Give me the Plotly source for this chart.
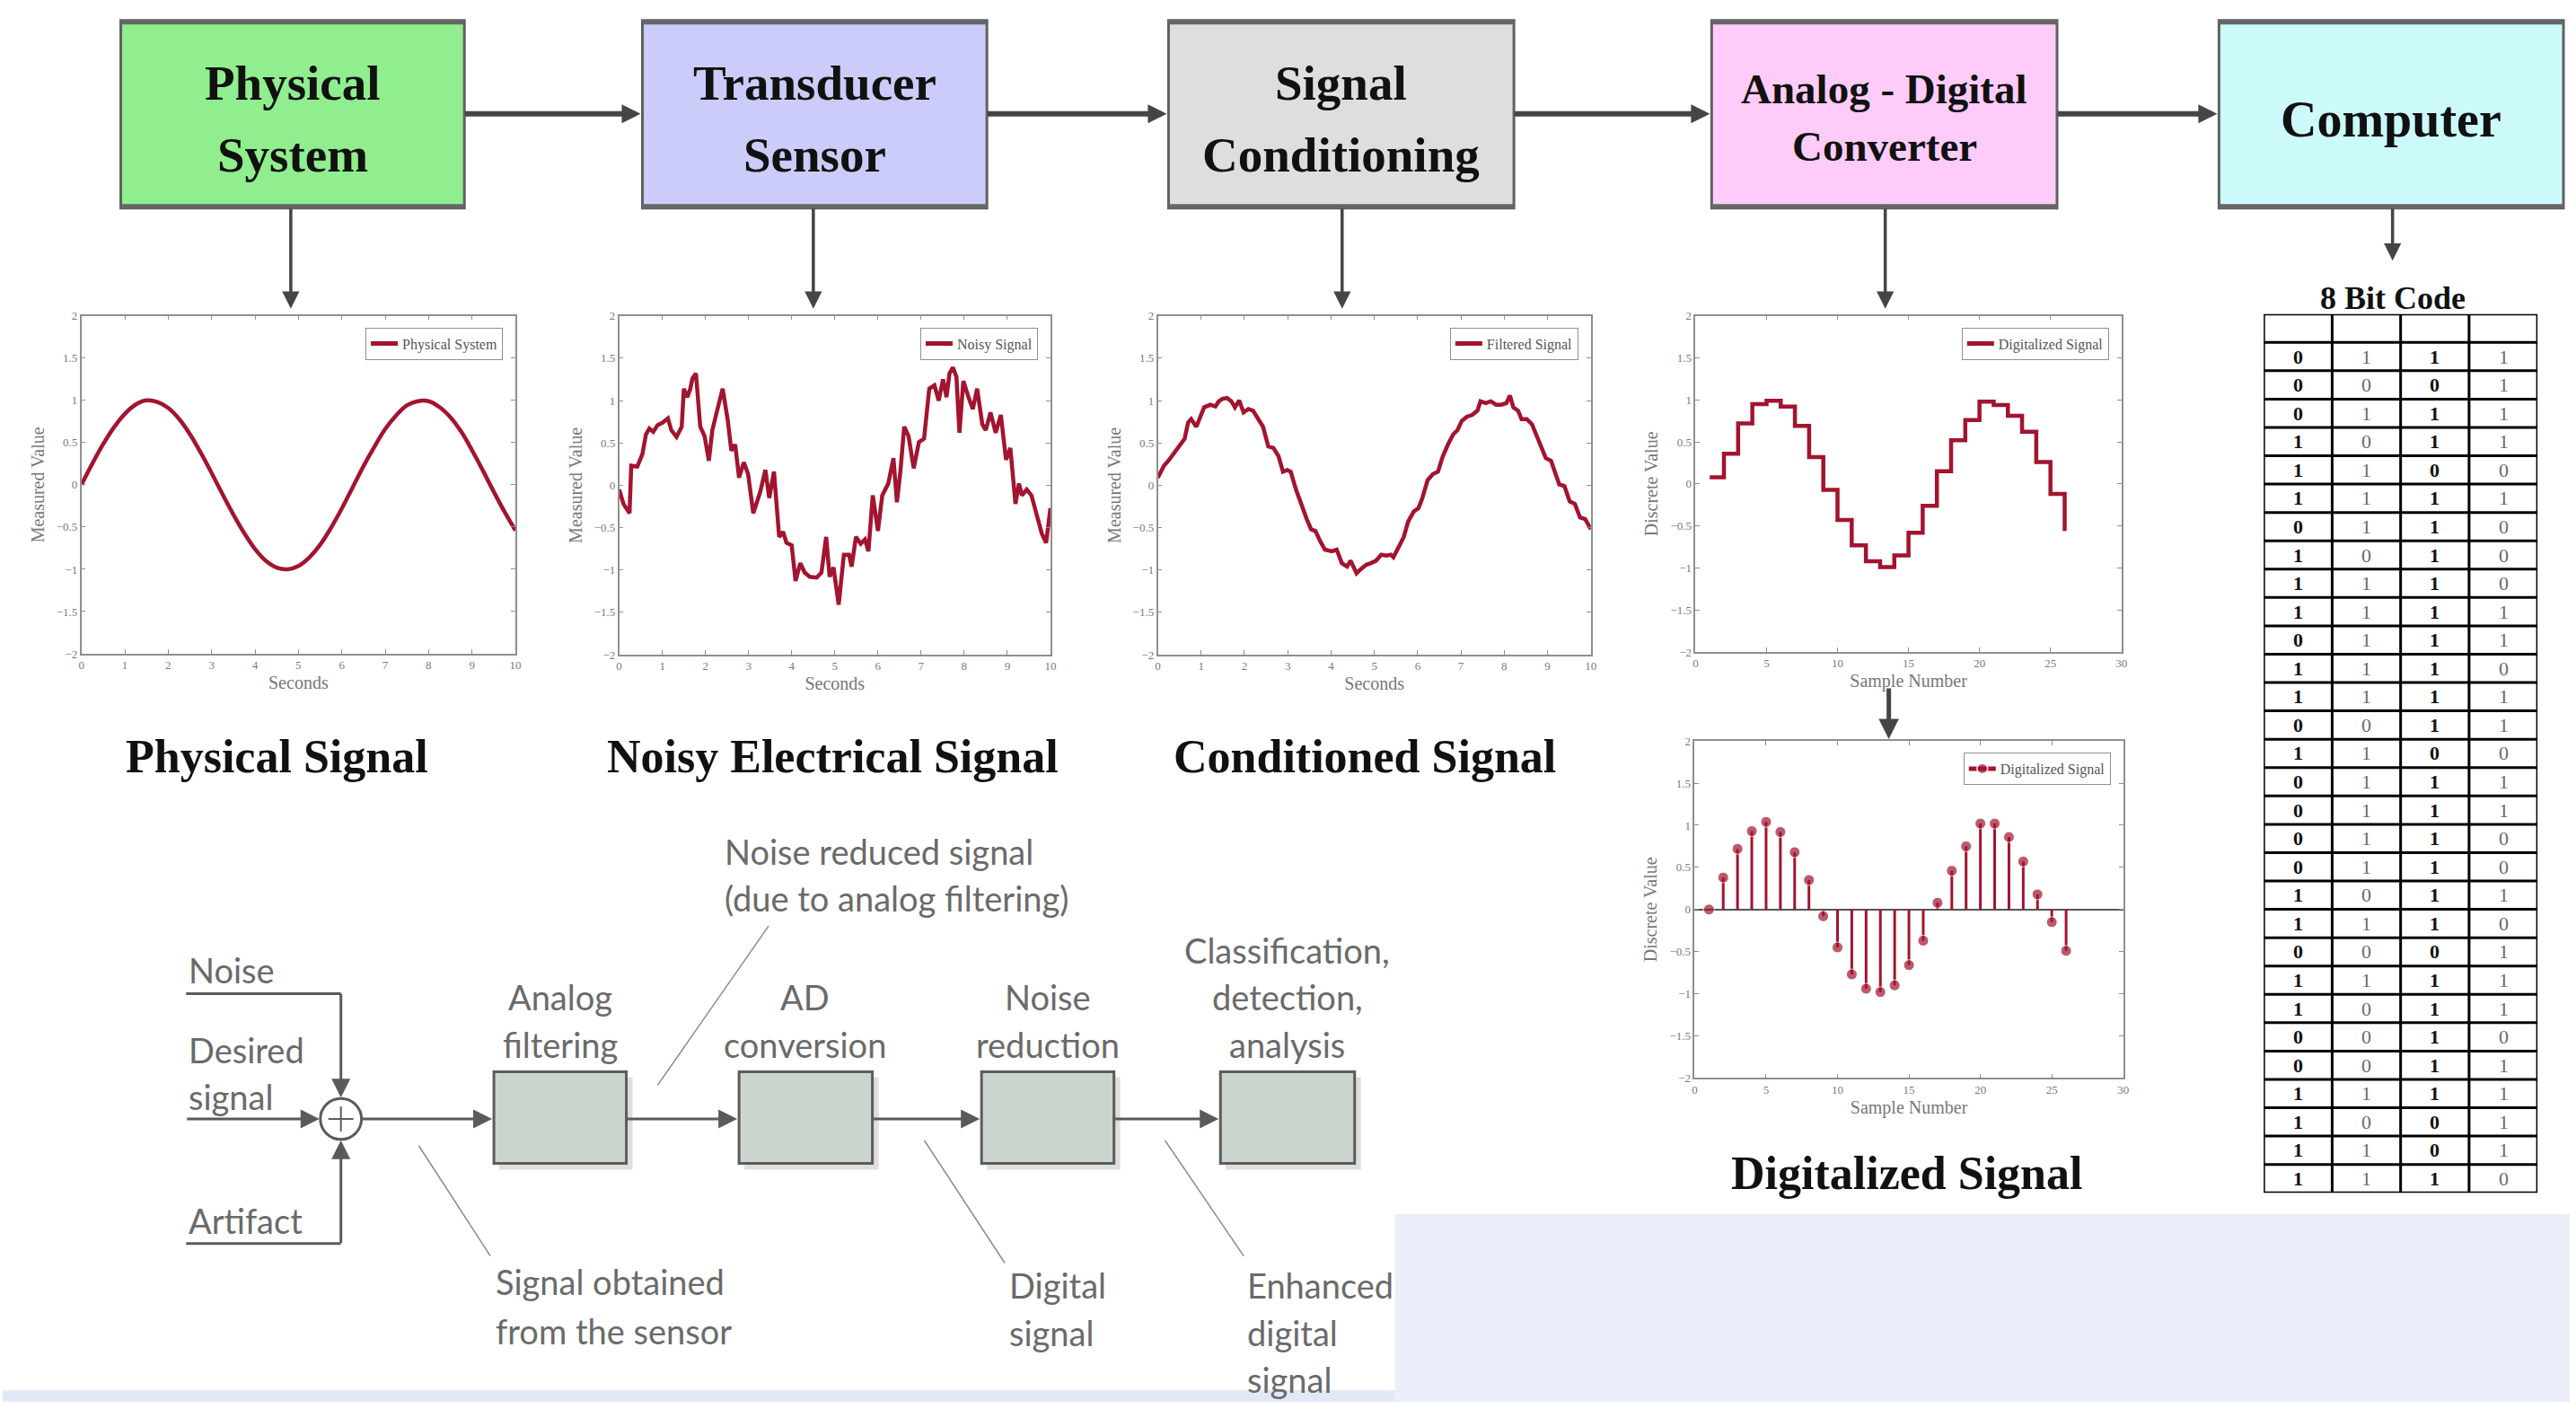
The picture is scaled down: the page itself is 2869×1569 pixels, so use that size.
import plotly.graph_objects as go

W, H = 2869, 1569
def X(p): return p / W
def Y(p): return 1 - p / H

RED = '#A2142F'
SERIF = 'Liberation Serif'
SANS = 'Lato'

# ---------------- data ----------------
phys_t = [0, 0.25, 0.5, 0.75, 1.0, 1.25, 1.5, 1.75, 2.0, 2.25, 2.5, 2.75, 3.0, 3.25, 3.5, 3.75, 4.0,
          4.25, 4.5, 4.75, 5.0, 5.25, 5.5, 5.75, 6.0, 6.25, 6.5, 6.75, 7.0, 7.25, 7.5, 7.75, 8.0,
          8.25, 8.5, 8.75, 9.0, 9.25, 9.5, 9.75, 10.0]
phys_v = [0.0, 0.25, 0.48, 0.68, 0.84, 0.95, 1.0, 0.98, 0.91, 0.78, 0.6, 0.38, 0.14, -0.11, -0.35,
          -0.57, -0.76, -0.9, -0.98, -1.0, -0.96, -0.86, -0.71, -0.51, -0.28, -0.03, 0.22, 0.45,
          0.66, 0.82, 0.94, 0.99, 0.99, 0.92, 0.8, 0.63, 0.41, 0.17, -0.08, -0.32, -0.54]

noisy_t = [0, 0.1, 0.24, 0.28, 0.42, 0.54, 0.62, 0.7, 0.79, 0.89, 1.01, 1.13, 1.21, 1.33, 1.45, 1.5,
           1.58, 1.65, 1.7, 1.78, 1.88, 1.98, 2.08, 2.16, 2.28, 2.4, 2.52, 2.6, 2.69, 2.78, 2.89,
           2.99, 3.11, 3.27, 3.39, 3.48, 3.59, 3.71, 3.8, 3.88, 4.0, 4.09, 4.2, 4.3, 4.42, 4.58,
           4.69, 4.8, 4.88, 4.97, 5.09, 5.21, 5.33, 5.39, 5.49, 5.6, 5.7, 5.78, 5.88, 6.0, 6.1,
           6.24, 6.36, 6.44, 6.52, 6.61, 6.71, 6.83, 6.95, 7.07, 7.19, 7.31, 7.41, 7.51, 7.59,
           7.66, 7.74, 7.82, 7.89, 7.98, 8.1, 8.2, 8.3, 8.42, 8.5, 8.61, 8.73, 8.85, 8.97, 9.07,
           9.19, 9.27, 9.34, 9.45, 9.56, 9.68, 9.8, 9.9, 10.0]
noisy_v = [-0.05, -0.22, -0.33, 0.23, 0.22, 0.37, 0.6, 0.67, 0.63, 0.71, 0.74, 0.79, 0.65, 0.57,
           0.69, 1.14, 1.04, 1.14, 1.26, 1.32, 0.69, 0.58, 0.29, 0.65, 0.9, 1.14, 0.76, 0.41, 0.48,
           0.09, 0.27, 0.13, -0.33, -0.08, 0.18, -0.15, 0.16, -0.61, -0.55, -0.68, -0.71, -1.13,
           -0.92, -1.03, -1.08, -1.09, -1.03, -0.61, -1.08, -0.97, -1.41, -0.82, -0.82, -0.96,
           -0.61, -0.69, -0.64, -0.78, -0.12, -0.54, -0.12, 0.02, 0.32, -0.2, 0.16, 0.69, 0.58,
           0.2, 0.51, 0.55, 1.14, 1.18, 1.0, 1.25, 1.04, 1.32, 1.39, 1.28, 0.62, 1.23, 1.04, 0.9,
           1.14, 0.72, 0.65, 0.86, 0.62, 0.83, 0.3, 0.44, -0.22, 0.02, -0.12, -0.05, -0.12, -0.33,
           -0.57, -0.68, -0.27]

filt_t = [0, 0.14, 0.26, 0.38, 0.5, 0.62, 0.7, 0.77, 0.89, 0.99, 1.07, 1.21, 1.33, 1.41, 1.49, 1.6,
          1.7, 1.78, 1.88, 1.98, 2.09, 2.2, 2.32, 2.43, 2.55, 2.67, 2.79, 2.89, 2.99, 3.07, 3.19,
          3.3, 3.44, 3.54, 3.64, 3.75, 3.86, 4.02, 4.13, 4.25, 4.37, 4.45, 4.53, 4.59, 4.69, 4.81,
          4.92, 5.04, 5.16, 5.28, 5.38, 5.44, 5.56, 5.68, 5.78, 5.91, 6.02, 6.11, 6.23, 6.35, 6.47,
          6.58, 6.7, 6.82, 6.92, 7.02, 7.14, 7.26, 7.38, 7.45, 7.57, 7.69, 7.81, 7.93, 8.05, 8.13,
          8.21, 8.32, 8.4, 8.52, 8.64, 8.76, 8.88, 8.96, 9.08, 9.18, 9.27, 9.39, 9.51, 9.63, 9.75,
          9.87, 10.0]
filt_v = [0.09, 0.23, 0.3, 0.39, 0.48, 0.55, 0.74, 0.78, 0.69, 0.81, 0.92, 0.95, 0.93, 0.99, 1.02,
          1.03, 0.99, 0.92, 1.0, 0.86, 0.9, 0.88, 0.79, 0.69, 0.46, 0.44, 0.34, 0.16, 0.18, 0.16,
          -0.05, -0.22, -0.4, -0.52, -0.54, -0.66, -0.76, -0.78, -0.76, -0.92, -0.96, -0.89, -0.99,
          -1.04, -0.99, -0.94, -0.92, -0.89, -0.82, -0.83, -0.82, -0.85, -0.73, -0.61, -0.43, -0.31,
          -0.27, -0.15, 0.06, 0.13, 0.16, 0.34, 0.48, 0.6, 0.65, 0.76, 0.81, 0.83, 0.88, 0.99, 0.97,
          0.99, 0.95, 0.95, 0.97, 1.06, 0.92, 0.88, 0.78, 0.78, 0.72, 0.58, 0.44, 0.32, 0.29, 0.13,
          0.01, -0.01, -0.19, -0.22, -0.38, -0.4, -0.52]

sample_n = [1, 2, 3, 4, 5, 6, 7, 8, 9, 10, 11, 12, 13, 14, 15, 16, 17, 18, 19, 20, 21, 22, 23, 24, 25, 26]
step_v = [0.08, 0.36, 0.72, 0.95, 0.99, 0.92, 0.69, 0.32, -0.07, -0.43, -0.73, -0.92, -0.99, -0.85,
          -0.58, -0.26, 0.15, 0.52, 0.76, 0.98, 0.94, 0.81, 0.62, 0.26, -0.12, -0.56]
stem_v = [0.0, 0.38, 0.72, 0.93, 1.04, 0.92, 0.68, 0.35, -0.08, -0.45, -0.77, -0.94, -0.98, -0.9,
          -0.66, -0.37, 0.08, 0.46, 0.75, 1.02, 1.02, 0.86, 0.57, 0.18, -0.15, -0.49]

bit_rows = ["0111", "0001", "0111", "1011", "1100", "1111", "0110", "1010", "1110", "1111",
            "0111", "1110", "1111", "0011", "1100", "0111", "0111", "0110", "0110", "1011",
            "1110", "0001", "1111", "1011", "0010", "0011", "1111", "1001", "1101", "1110"]

stage_names = [["Physical", "System"], ["Transducer", "Sensor"], ["Signal", "Conditioning"],
               ["Analog - Digital", "Converter"], ["Computer"]]
stage_colors = ['#90EE8E', '#CCCCFA', '#DEDEDE', '#FFCCFA', '#CCFAFA']
panel_titles = ["Physical Signal", "Noisy Electrical Signal", "Conditioned Signal"]
legend_names = ["Physical System", "Noisy Signal", "Filtered Signal", "Digitalized Signal", "Digitalized Signal"]

# ---------------- figure ----------------
fig = go.Figure()
shapes, annotations = [], []

def line(x0, y0, x1, y1, w, color):
    shapes.append(dict(type='line', xref='paper', yref='paper', x0=X(x0), y0=Y(y0), x1=X(x1), y1=Y(y1),
                       line=dict(color=color, width=w), layer='above'))

def rect(x0, y0, x1, y1, fill, lc='rgba(0,0,0,0)', lw=0, layer='below'):
    shapes.append(dict(type='rect', xref='paper', yref='paper', x0=X(x0), y0=Y(y0), x1=X(x1), y1=Y(y1),
                       fillcolor=fill, line=dict(color=lc, width=lw), layer=layer))

def text(x, y, s, size, family, color, anchor='center'):
    annotations.append(dict(x=X(x), y=Y(y), xref='paper', yref='paper', text=s, showarrow=False,
                            xanchor=anchor, yanchor='middle', font=dict(family=family, size=size, color=color)))

def arrow(x0, y0, x1, y1, w, s, color='#454545'):
    annotations.append(dict(x=X(x1), y=Y(y1), xref='paper', yref='paper', ax=x0 - x1, ay=y0 - y1,
                            axref='pixel', ayref='pixel', showarrow=True, arrowhead=2, arrowwidth=w,
                            arrowsize=s, arrowcolor=color, text='', standoff=0))

# background decoration (faint blue stripes region)
rect(1556, 1358, 2869, 1569, '#ECEFFA')
rect(0, 1556, 1556, 1569, '#E3E8F7')

# ---- top stage boxes ----
box_x = [(132, 516), (715, 1100), (1303, 1689), (1910, 2296), (2477, 2862)]
for (x0, x1), col, names in zip(box_x, stage_colors, stage_names):
    rect(x0, 16, x1, 227, col, '#606060', 3, layer='above')
    line(x0, 18, x1, 18, 5, '#666666')
    line(x0, 225, x1, 225, 5, '#666666')
    cx = (x0 + x1) / 2
    if len(names) == 1:
        text(cx, 127, '<b>%s</b>' % names[0], 56, SERIF, '#111')
    elif names[0].startswith('Analog'):
        text(cx, 93, '<b>%s</b>' % names[0], 47, SERIF, '#111')
        text(cx, 158, '<b>%s</b>' % names[1], 47, SERIF, '#111')
    else:
        text(cx, 86, '<b>%s</b>' % names[0], 55, SERIF, '#111')
        text(cx, 167, '<b>%s</b>' % names[1], 55, SERIF, '#111')

for i in range(4):
    arrow(box_x[i][1], 121, box_x[i + 1][0] - 2, 121, 6, 0.7)
for xa in [322, 906, 1497, 2104]:
    arrow(xa, 227, xa, 340, 3.5, 1.1)
arrow(2671, 227, 2671, 286, 3.5, 1.1)
arrow(2108, 766, 2108, 824, 5, 0.9)

# ---- panel labels ----
text(307, 844, '<b>%s</b>' % panel_titles[0], 52, SERIF, '#111')
text(928, 844, '<b>%s</b>' % panel_titles[1], 52, SERIF, '#111')
text(1522, 844, '<b>%s</b>' % panel_titles[2], 52, SERIF, '#111')
text(2128, 1312, '<b>Digitalized Signal</b>', 52, SERIF, '#111')
text(2671, 328, '<b>8 Bit Code</b>', 36, SERIF, '#111')

# ---- small plots ----
panels = [
    dict(x=(88, 573), y=(348, 728), xr=[0, 10], xd=1, xt='Seconds', yt='Measured Value'),
    dict(x=(689, 1171), y=(348, 729), xr=[0, 10], xd=1, xt='Seconds', yt='Measured Value'),
    dict(x=(1291, 1775), y=(348, 729), xr=[0, 10], xd=1, xt='Seconds', yt='Measured Value'),
    dict(x=(1892, 2368), y=(348, 726), xr=[0, 30], xd=5, xt='Sample Number', yt='Discrete Value'),
    dict(x=(1891, 2370), y=(826, 1205), xr=[0, 30], xd=5, xt='Sample Number', yt='Discrete Value'),
]
axis_font = dict(family=SERIF, size=13, color='#7a7a7a')
title_font = dict(family=SERIF, size=20, color='#777777')
layout_axes = {}
for i, p in enumerate(panels, start=1):
    sfx = '' if i == 1 else str(i)
    common = dict(showline=True, mirror='ticks', linecolor='#8f8f8f', linewidth=1.5, ticks='inside',
                  ticklen=5, tickcolor='#8f8f8f', showgrid=False, tickfont=axis_font, fixedrange=True)
    layout_axes['xaxis' + sfx] = dict(domain=[X(p['x'][0]), X(p['x'][1])], anchor='y' + sfx,
                                      range=p['xr'], dtick=p['xd'], tick0=0, zeroline=False,
                                      title=dict(text=p['xt'], font=title_font, standoff=6), **common)
    layout_axes['yaxis' + sfx] = dict(domain=[Y(p['y'][1]), Y(p['y'][0])], anchor='x' + sfx,
                                      range=[-2, 2], dtick=0.5, tick0=0,
                                      zeroline=(i == 5), zerolinecolor='#555555', zerolinewidth=2,
                                      title=dict(text=p['yt'], font=title_font, standoff=8), **common)
    lg = 'legend' if i == 1 else 'legend' + str(i)
    layout_axes[lg] = dict(x=X(p['x'][1] - 14), y=Y(p['y'][0] + 13), xanchor='right', yanchor='top',
                           xref='paper', yref='paper', bgcolor='white', bordercolor='#8f8f8f',
                           borderwidth=1, font=dict(family=SERIF, size=16, color='#555'),
                           itemwidth=30, tracegroupgap=0, itemsizing='constant')

fig.add_trace(go.Scatter(x=phys_t, y=phys_v, mode='lines', name=legend_names[0],
                         line=dict(color=RED, width=4.5, shape='spline'), xaxis='x', yaxis='y', legend='legend'))
fig.add_trace(go.Scatter(x=noisy_t, y=noisy_v, mode='lines', name=legend_names[1],
                         line=dict(color=RED, width=4.5), xaxis='x2', yaxis='y2', legend='legend2'))
fig.add_trace(go.Scatter(x=filt_t, y=filt_v, mode='lines', name=legend_names[2],
                         line=dict(color=RED, width=4.5), xaxis='x3', yaxis='y3', legend='legend3'))
fig.add_trace(go.Scatter(x=sample_n, y=step_v, mode='lines', name=legend_names[3],
                         line=dict(color=RED, width=4.5, shape='hv'), xaxis='x4', yaxis='y4', legend='legend4'))
sx, sy, ss = [], [], []
for n, v in zip(sample_n, stem_v):
    sx += [n, n, None]
    sy += [0, v, None]
    ss += [0, 12, 0]
fig.add_trace(go.Scatter(x=sx, y=sy, mode='lines+markers', name=legend_names[4], connectgaps=False,
                         line=dict(color=RED, width=3), marker=dict(size=ss, color=RED),
                         xaxis='x5', yaxis='y5', legend='legend5'))

# ---- 8 bit code table (drawn on its own hidden axes: columns 0..4, rows 0..31) ----
n_rows = len(bit_rows) + 1  # header + data rows
layout_axes['xaxis6'] = dict(domain=[X(2527), X(2833)], range=[0, 4], visible=False, fixedrange=True, anchor='y6')
layout_axes['yaxis6'] = dict(domain=[Y(1334), Y(346)], range=[n_rows, 0], visible=False, fixedrange=True, anchor='x6')
for c in range(5):
    shapes.append(dict(type='line', xref='x6', yref='y6', x0=c, x1=c, y0=0, y1=n_rows,
                       line=dict(color='black', width=3), layer='above'))
for r in range(n_rows + 1):
    shapes.append(dict(type='line', xref='x6', yref='y6', x0=0, x1=4, y0=r, y1=r,
                       line=dict(color='black', width=3), layer='above'))
for r, row in enumerate(bit_rows):
    for c, bit in enumerate(row):
        bold = c in (0, 2)
        annotations.append(dict(x=c + 0.5, y=r + 1.5, xref='x6', yref='y6', showarrow=False,
                                text=('<b>%s</b>' % bit) if bold else bit, xanchor='center', yanchor='middle',
                                font=dict(family=SERIF, size=22, color='#111' if bold else '#6a6a6a')))
fig.add_trace(go.Scatter(x=[0.5], y=[0.5], mode='markers', marker=dict(size=1, color='rgba(0,0,0,0)'),
                         xaxis='x6', yaxis='y6', showlegend=False, hoverinfo='skip'))

# ---- bottom-left block diagram ----
G = '#6a6a6a'
LC = '#5a5a5a'
text(206, 1083, 'Noise', 38, SANS, G, 'left')
text(206, 1173, 'Desired', 38, SANS, G, 'left')
text(206, 1226, 'signal', 38, SANS, G, 'left')
text(206, 1365, 'Artifact', 38, SANS, G, 'left')
line(205, 1110, 378, 1110, 3, LC)
arrow(378, 1110, 378, 1227, 3, 1.4, LC)
arrow(205, 1251, 354, 1251, 3, 1.4, LC)
line(205, 1391, 378, 1391, 3, LC)
arrow(378, 1391, 378, 1275, 3, 1.4, LC)
shapes.append(dict(type='circle', xref='paper', yref='paper', x0=X(355), y0=Y(1274), x1=X(401), y1=Y(1228),
                   fillcolor='white', line=dict(color=LC, width=3), layer='above'))
line(364, 1251, 392, 1251, 2, LC)
line(378, 1237, 378, 1265, 2, LC)

bx = [(549, 697), (823, 972), (1094, 1242), (1361, 1511)]
for x0, x1 in bx:
    rect(x0 + 6, 1204, x1 + 7, 1308, 'rgba(0,0,0,0.13)')
    rect(x0, 1198, x1, 1301, '#CBD5CE', '#5c5c5c', 3, layer='above')
arrow(401, 1251, 547, 1251, 3, 1.4, LC)
arrow(697, 1251, 821, 1251, 3, 1.4, LC)
arrow(972, 1251, 1092, 1251, 3, 1.4, LC)
arrow(1242, 1251, 1359, 1251, 3, 1.4, LC)

text(623, 1114, 'Analog', 38, SANS, G)
text(623, 1167, 'filtering', 38, SANS, G)
text(897, 1114, 'AD', 38, SANS, G)
text(897, 1167, 'conversion', 38, SANS, G)
text(1168, 1114, 'Noise', 38, SANS, G)
text(1168, 1167, 'reduction', 38, SANS, G)
text(1436, 1061, 'Classification,', 38, SANS, G)
text(1436, 1114, 'detection,', 38, SANS, G)
text(1436, 1167, 'analysis', 38, SANS, G)

text(805, 950, 'Noise reduced signal', 38, SANS, G, 'left')
text(805, 1003, '(due to analog filtering)', 38, SANS, G, 'left')
line(856, 1034, 732, 1213, 1.5, '#8a8a8a')
text(549, 1434, 'Signal obtained', 38, SANS, G, 'left')
text(549, 1489, 'from the sensor', 38, SANS, G, 'left')
line(465, 1281, 545, 1405, 1.5, '#8a8a8a')
text(1123, 1438, 'Digital', 38, SANS, G, 'left')
text(1123, 1491, 'signal', 38, SANS, G, 'left')
line(1030, 1275, 1120, 1413, 1.5, '#8a8a8a')
text(1389, 1438, 'Enhanced', 38, SANS, G, 'left')
text(1389, 1491, 'digital', 38, SANS, G, 'left')
text(1389, 1544, 'signal', 38, SANS, G, 'left')
line(1299, 1275, 1387, 1405, 1.5, '#8a8a8a')

fig.update_layout(
    width=W, height=H, autosize=False, margin=dict(l=0, r=0, t=0, b=0),
    paper_bgcolor='white', plot_bgcolor='white', showlegend=True,
    shapes=shapes, annotations=annotations, **layout_axes)

fig.write_html("out.html", config={'displayModeBar': False},
               post_script="document.body.style.margin='0';document.body.style.overflow='hidden';")
